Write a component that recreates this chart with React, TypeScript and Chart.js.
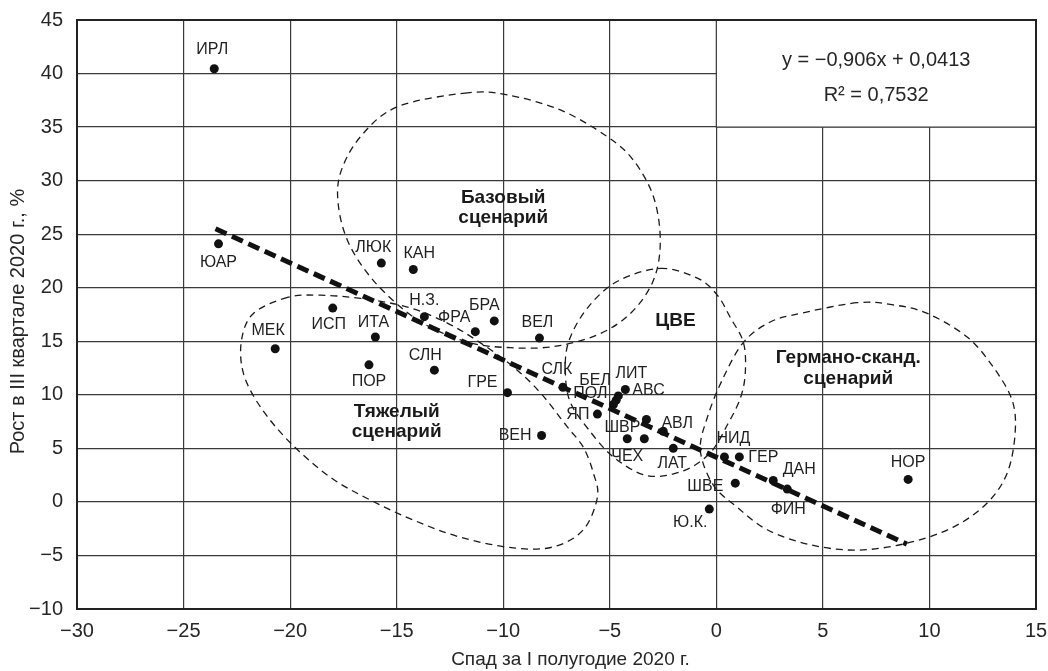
import { useEffect, useRef } from 'react';
import { Chart, registerables } from 'chart.js';

Chart.register(...registerables);

// ---- Data ----
const countries = [
  'ИРЛ', 'ЮАР', 'ЛЮК', 'КАН', 'МЕК', 'ИСП', 'ИТА', 'ПОР', 'Н.З.', 'ФРА', 'БРА',
  'СЛН', 'ГРЕ', 'ВЕЛ', 'ВЕН', 'СЛК', 'АВС', 'ЛИТ', 'БЕЛ', 'ПОЛ', 'ЯП', 'ШВР', '',
  'ЧЕХ', 'АВЛ', 'ЛАТ', 'НИД', 'ГЕР', 'ШВЕ', 'Ю.К.', 'ДАН', 'ФИН', 'НОР',
];
const declineH1 = [
  -23.56, -23.36, -15.72, -14.22, -20.7, -18.0, -16.0, -16.3, -13.7, -11.31, -10.42,
  -13.23, -9.8, -8.3, -8.2, -7.2, -4.27, -4.6, -4.7, -4.83, -5.58, -3.28, -3.38,
  -4.18, -2.49, -2.02, 0.38, 1.08, 0.89, -0.33, 2.67, 3.33, 9.0,
];
const growthQ3 = [
  40.45, 24.1, 22.3, 21.7, 14.3, 18.1, 15.4, 12.8, 17.3, 15.9, 16.9,
  12.3, 10.2, 15.3, 6.2, 10.7, 10.5, 9.9, 9.5, 9.1, 8.2, 7.7, 5.9,
  5.9, 6.6, 5.0, 4.2, 4.2, 1.75, -0.67, 2.0, 1.2, 2.1,
];

const trendX = [-23.5, 8.94];
const trendY = [25.5, -3.94];

const xTickValues = [-30, -25, -20, -15, -10, -5, 0, 5, 10, 15];
const yTickValues = [-10, -5, 0, 5, 10, 15, 20, 25, 30, 35, 40, 45];

const equationLines = ['y = \u22120,906x + 0,0413', 'R\u00B2 = 0,7532'];

// Scenario outlines (data coordinates)
const baseOutlineX = [-11.68, -14.96, -16.7, -17.64, -17.73, -17.26, -16.23, -14.82, -13.41, -11.54, -9.66, -7.65, -5.58, -4.03, -2.95, -2.63, -2.95, -3.89, -5.11, -7.32, -9.8];
const baseOutlineY = [38.2, 36.9, 34.1, 30.7, 27.6, 24.2, 21.0, 18.2, 16.3, 14.85, 14.4, 14.5, 15.6, 17.6, 20.7, 24.4, 28.5, 31.9, 34.1, 36.6, 38.0];

const severeOutlineX = [-20.12, -21.72, -22.28, -22.19, -21.39, -19.98, -18.11, -16.23, -14.21, -12.01, -9.52, -7.65, -6.24, -5.58, -5.77, -6.24, -6.99, -8.26, -9.52, -11.07, -12.62, -14.49, -16.7, -18.57];
const severeOutlineY = [19.1, 17.6, 15.1, 12.0, 8.86, 5.5, 2.3, 0.17, -1.7, -3.3, -4.3, -4.2, -2.6, 0.45, 2.7, 5.1, 7.0, 10.2, 12.6, 14.85, 16.7, 18.2, 19.0, 19.3];

const ceeOutlineX = [-2.63, -0.89, 0.05, 0.66, 1.27, 1.36, 1.13, 0.52, -0.28, -1.55, -3.24, -4.83, -6.05, -6.85, -7.08, -6.94, -6.05, -4.64];
const ceeOutlineY = [21.8, 20.9, 19.3, 17.2, 14.9, 12.1, 9.7, 7.2, 4.6, 2.9, 2.45, 4.2, 6.9, 9.3, 11.9, 14.9, 18.1, 20.6];

const germanOutlineX = [6.61, 3.94, 2.53, 1.27, 0.28, -0.42, -0.75, -0.14, 0.98, 2.39, 4.41, 6.61, 8.96, 11.12, 12.71, 13.65, 14.02, 13.88, 12.99, 11.77, 9.9, 8.3];
const germanOutlineY = [18.6, 17.6, 16.8, 14.9, 11.4, 7.9, 4.8, 1.57, -0.5, -2.6, -4.0, -4.5, -3.85, -2.35, -0.1, 2.7, 6.4, 9.5, 12.6, 15.4, 17.6, 18.4];

const scenarioNames = [
  ['Базовый', 'сценарий'],
  ['Тяжелый', 'сценарий'],
  ['ЦВЕ'],
  ['Германо-сканд.', 'сценарий'],
];
const scenarioLabelX = [-10.0, -15.0, -1.92, 6.19];
const scenarioLabelY = [27.45, 7.5, 16.9, 12.46];

// label placement relative to the point: [align, dx, dy] in px
const labelPlacement: Record<string, [CanvasTextAlign, number, number]> = {
  'ИРЛ': ['center', -2, -19],
  'ЮАР': ['center', 0, 19],
  'ЛЮК': ['center', -8, -16],
  'КАН': ['center', 6, -16],
  'МЕК': ['center', -7, -18],
  'ИСП': ['center', -4, 17],
  'ИТА': ['center', -2, -14],
  'ПОР': ['center', 0, 17],
  'Н.З.': ['center', 0, -16],
  'ФРА': ['center', -21, -14],
  'БРА': ['center', -10, -15],
  'СЛН': ['center', -9, -15],
  'ГРЕ': ['center', -25, -10],
  'ВЕЛ': ['center', -2, -15],
  'ВЕН': ['right', -10, 0],
  'СЛК': ['center', -6, -18],
  'АВС': ['left', 7, 1],
  'ЛИТ': ['center', 13, -22],
  'БЕЛ': ['center', -21, -20],
  'ПОЛ': ['center', -23, -11],
  'ЯП': ['right', -8, 0],
  'ШВР': ['right', -6, 8],
  'ЧЕХ': ['center', 0, 18],
  'АВЛ': ['center', 14, -8],
  'ЛАТ': ['center', -1, 15],
  'НИД': ['center', 9, -18],
  'ГЕР': ['left', 9, 1],
  'ШВЕ': ['right', -12, 3],
  'Ю.К.': ['center', -19, 14],
  'ДАН': ['center', 26, -11],
  'ФИН': ['center', 1, 21],
  'НОР': ['center', 0, -17],
};

const FONT = '"Liberation Sans", Arial, sans-serif';
const GRID = '#3a3a3a';
const fmt = (v: number) => (v < 0 ? '\u2212' + Math.abs(v) : String(v));

function closedCurve(ctx: CanvasRenderingContext2D, pts: number[][]) {
  const n = pts.length;
  ctx.beginPath();
  ctx.moveTo(pts[0][0], pts[0][1]);
  for (let i = 0; i < n; i++) {
    const p0 = pts[(i - 1 + n) % n];
    const p1 = pts[i];
    const p2 = pts[(i + 1) % n];
    const p3 = pts[(i + 2) % n];
    ctx.bezierCurveTo(
      p1[0] + (p2[0] - p0[0]) / 6, p1[1] + (p2[1] - p0[1]) / 6,
      p2[0] - (p3[0] - p1[0]) / 6, p2[1] - (p3[1] - p1[1]) / 6,
      p2[0], p2[1],
    );
  }
  ctx.closePath();
  ctx.stroke();
}

const decorPlugin = {
  id: 'decor',
  beforeDatasetsDraw(chart: any) {
    const { ctx, chartArea: a, scales } = chart;
    const xs = scales.x;
    const ys = scales.y;
    ctx.save();
    // equation box
    const x0 = xs.getPixelForValue(0);
    const y35 = ys.getPixelForValue(35);
    ctx.fillStyle = '#ffffff';
    ctx.fillRect(x0, a.top, a.right - x0, y35 - a.top);
    ctx.strokeStyle = GRID;
    ctx.lineWidth = 1.2;
    ctx.beginPath();
    ctx.moveTo(x0, a.top);
    ctx.lineTo(x0, y35);
    ctx.lineTo(a.right, y35);
    ctx.stroke();
    // border
    ctx.strokeStyle = '#222';
    ctx.lineWidth = 2;
    ctx.strokeRect(a.left, a.top, a.right - a.left, a.bottom - a.top);
    // outlines
    ctx.strokeStyle = '#1a1a1a';
    ctx.lineWidth = 1.3;
    ctx.setLineDash([7, 5]);
    const outlines: [number[], number[]][] = [
      [baseOutlineX, baseOutlineY],
      [severeOutlineX, severeOutlineY],
      [ceeOutlineX, ceeOutlineY],
      [germanOutlineX, germanOutlineY],
    ];
    for (const [ox, oy] of outlines) {
      const pts = ox.map((v, i) => [xs.getPixelForValue(v), ys.getPixelForValue(oy[i])]);
      closedCurve(ctx, pts);
    }
    ctx.restore();
  },
  afterDatasetsDraw(chart: any) {
    const { ctx, chartArea: a, scales } = chart;
    const xs = scales.x;
    const ys = scales.y;
    ctx.save();
    // point labels
    ctx.fillStyle = '#1f1f1f';
    ctx.font = `16px ${FONT}`;
    ctx.textBaseline = 'middle';
    countries.forEach((name, i) => {
      const pl = labelPlacement[name];
      if (!pl || !name) return;
      const px = xs.getPixelForValue(declineH1[i]);
      const py = ys.getPixelForValue(growthQ3[i]);
      ctx.textAlign = pl[0];
      ctx.fillText(name, px + pl[1], py + pl[2]);
    });
    // scenario labels
    ctx.fillStyle = '#1a1a1a';
    ctx.font = `bold 19px ${FONT}`;
    ctx.textAlign = 'center';
    scenarioNames.forEach((lines, i) => {
      const cx = xs.getPixelForValue(scenarioLabelX[i]);
      const cy = ys.getPixelForValue(scenarioLabelY[i]);
      const lh = 20.5;
      lines.forEach((t, j) => {
        ctx.fillText(t, cx, cy + (j - (lines.length - 1) / 2) * lh);
      });
    });
    // equation
    ctx.fillStyle = '#262626';
    ctx.font = `20px ${FONT}`;
    const ex = (xs.getPixelForValue(0) + a.right) / 2;
    ctx.fillText(equationLines[0], ex, a.top + 40);
    ctx.fillText(equationLines[1], ex, a.top + 75);
    // axis titles
    ctx.font = `19px ${FONT}`;
    ctx.fillText('Спад за I полугодие 2020 г.', (a.left + a.right) / 2 + 14, a.bottom + 51);
    ctx.font = `20px ${FONT}`;
    ctx.translate(18, (a.top + a.bottom) / 2 + 7);
    ctx.rotate(-Math.PI / 2);
    ctx.fillText('Рост в III квартале 2020 г., %', 0, 0);
    ctx.restore();
  },
};

export default function App() {
  const ref = useRef<HTMLCanvasElement | null>(null);
  useEffect(() => {
    if (!ref.current) return;
    const chart = new Chart(ref.current, {
      type: 'scatter',
      data: {
        datasets: [
          {
            type: 'line',
            label: 'trend',
            data: trendX.map((x, i) => ({ x, y: trendY[i] })),
            borderColor: '#111',
            borderWidth: 5,
            borderDash: [12, 6],
            pointRadius: 0,
            fill: false,
            order: 0,
          } as any,
          {
            label: 'countries',
            data: declineH1.map((x, i) => ({ x, y: growthQ3[i] })),
            backgroundColor: '#111',
            borderWidth: 0,
            pointRadius: 4.5,
            order: 1,
          },
        ],
      },
      options: {
        responsive: false,
        animation: false,
        layout: { padding: { top: 20, right: 12, left: 0, bottom: 0 } },
        plugins: { legend: { display: false }, tooltip: { enabled: false } },
        scales: {
          x: {
            type: 'linear',
            min: -30,
            max: 15,
            afterBuildTicks: (axis: any) => { axis.ticks = xTickValues.map((v) => ({ value: v })); },
            afterFit: (s: any) => { s.height = 62; s.paddingLeft = 0; s.paddingRight = 0; },
            ticks: {
              callback: (v: any) => fmt(Number(v)),
              font: { family: FONT, size: 20 },
              color: '#262626',
              padding: 10,
              maxRotation: 0,
            },
            grid: { color: GRID, lineWidth: 1.2, drawTicks: false },
            border: { display: false },
          },
          y: {
            type: 'linear',
            min: -10,
            max: 45,
            afterBuildTicks: (axis: any) => { axis.ticks = yTickValues.map((v) => ({ value: v })); },
            afterFit: (s: any) => { s.width = 77; s.paddingTop = 0; s.paddingBottom = 0; },
            ticks: {
              callback: (v: any) => fmt(Number(v)),
              font: { family: FONT, size: 20 },
              color: '#262626',
              padding: 14,
            },
            grid: { color: GRID, lineWidth: 1.2, drawTicks: false },
            border: { display: false },
          },
        },
      },
      plugins: [decorPlugin],
    });
    return () => chart.destroy();
  }, []);
  return (
    <div style={{ position: 'fixed', left: 0, top: 0, width: 1048, height: 671, background: '#fff' }}>
      <canvas ref={ref} width={1048} height={671} style={{ display: 'block' }} />
    </div>
  );
}
